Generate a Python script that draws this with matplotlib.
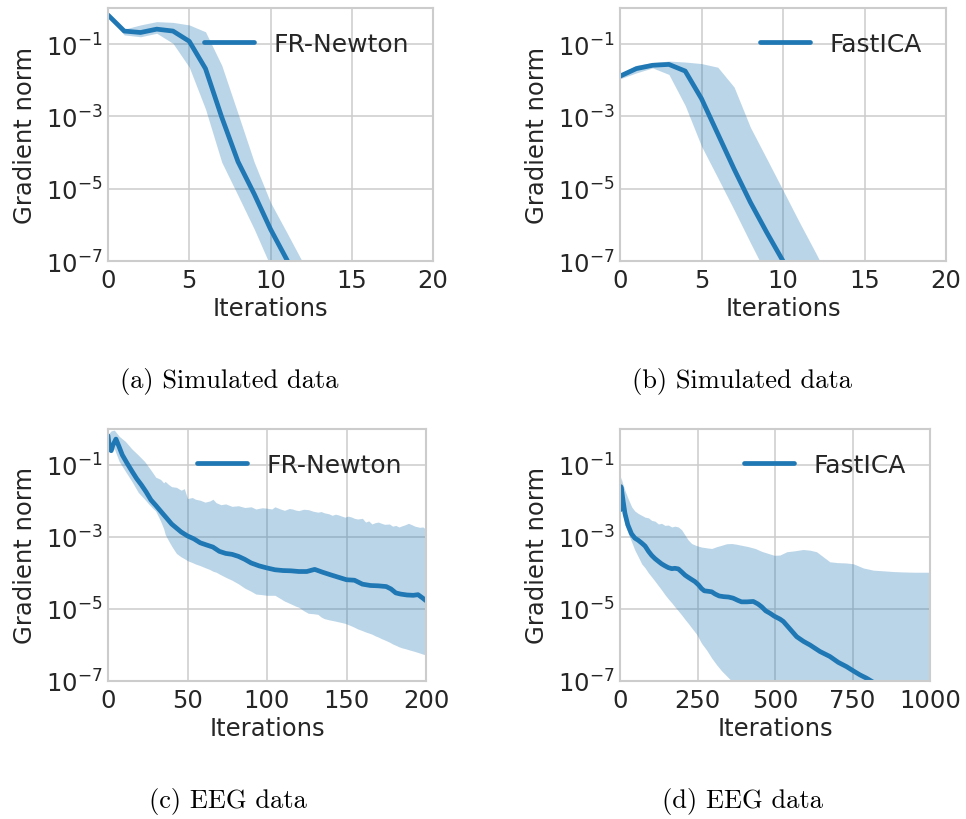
import numpy as np
import matplotlib
matplotlib.use("Agg")
import matplotlib.pyplot as plt

# ---------------- data ----------------
# (a) FR-Newton, simulated data
sim_iters = [0, 1, 2, 3, 4, 5, 6, 7, 8, 9, 10, 11, 12, 13]
fr_sim_mean = [6.4e-1, 2.3e-1, 2.1e-1, 2.6e-1, 2.3e-1, 1.2e-1, 2.1e-2, 9.5e-4, 5.6e-5, 7.1e-6, 7.6e-7, 1.1e-7, 1.3e-8, 1.5e-9]
fr_sim_upper = [6.4e-1, 2.6e-1, 3.4e-1, 4.2e-1, 4.0e-1, 3.4e-1, 2.2e-1, 2.6e-2, 1.2e-3, 5.4e-5, 4.2e-6, 6.2e-7, 8.9e-8, 1.0e-8]
fr_sim_lower = [6.4e-1, 1.8e-1, 1.6e-1, 2.0e-1, 1.05e-1, 2.3e-2, 1.6e-3, 5.4e-5, 6.5e-6, 7.6e-7, 7.2e-8, 1.0e-8, 1.0e-9, 1.0e-10]

# (b) FastICA, simulated data
ica_sim_mean = [1.3e-2, 2.1e-2, 2.6e-2, 2.75e-2, 1.8e-2, 3.1e-3, 3.3e-4, 3.5e-5, 4.2e-6, 6.2e-7, 1.0e-7, 1.3e-8, 1.6e-9, 2.0e-10]
ica_sim_upper = [1.55e-2, 2.6e-2, 3.1e-2, 3.4e-2, 3.2e-2, 2.9e-2, 2.3e-2, 6.5e-3, 5.0e-4, 6.8e-5, 9.1e-6, 1.2e-6, 1.7e-7, 2.2e-8]
ica_sim_lower = [1.1e-2, 1.6e-2, 2.2e-2, 1.45e-2, 2.0e-3, 1.5e-4, 2.0e-5, 2.6e-6, 3.2e-7, 4.1e-8, 5.0e-9, 6.0e-10, 8.0e-11, 1.0e-11]

# (c) FR-Newton, EEG data
fr_eeg_iters = [0, 1, 2, 3, 5, 7, 9, 12, 15, 18, 21, 24, 27, 30, 34, 37, 40, 43, 46, 50,
                54, 58, 62, 66, 70, 74, 78, 82, 86, 90, 95, 100, 105, 110, 115, 120, 125, 130,
                135, 140, 145, 150, 155, 160, 165, 170, 175, 178, 181, 184, 188, 192, 195, 198, 200]
fr_eeg_mean = [6.5e-1, 2.8e-1, 2.5e-1, 3.5e-1, 5.25e-1, 3.2e-1, 1.9e-1, 1.12e-1, 6.8e-2, 4.2e-2,
               2.8e-2, 1.78e-2, 1.07e-2, 7.6e-3, 4.7e-3, 3.3e-3, 2.3e-3, 1.78e-3, 1.38e-3, 1.07e-3,
               8.9e-4, 6.9e-4, 6.0e-4, 5.25e-4, 4.0e-4, 3.5e-4, 3.3e-4, 2.9e-4, 2.4e-4, 1.9e-4,
               1.58e-4, 1.38e-4, 1.23e-4, 1.17e-4, 1.15e-4, 1.1e-4, 1.1e-4, 1.26e-4, 1.05e-4, 8.9e-5,
               7.6e-5, 6.5e-5, 6.3e-5, 4.9e-5, 4.5e-5, 4.4e-5, 4.2e-5, 3.6e-5, 2.8e-5, 2.6e-5,
               2.45e-5, 2.4e-5, 2.5e-5, 2.0e-5, 1.7e-5]
fr_eeg_band_iters = [0, 2, 4, 7, 11, 15, 19, 23, 26, 28, 30, 33, 35, 36, 38, 40, 43, 46, 48, 50,
                     53, 55, 58, 61, 64, 66, 68, 71, 74, 78, 82, 86, 90, 93, 97, 100, 103, 105,
                     108, 111, 114, 116, 118, 120, 123, 126, 129, 132, 134, 136, 139, 141, 143,
                     145, 147, 149, 151, 153, 155, 157, 160, 162, 164, 166, 168, 170, 172, 174,
                     177, 179, 181, 183, 185, 187, 189, 191, 193, 196, 198, 200]
fr_eeg_upper = [7.1e-1, 8.9e-1, 9.3e-1, 6.3e-1, 4.5e-1, 2.8e-1, 1.9e-1, 1.26e-1, 8.3e-2, 6.2e-2,
                4.6e-2, 4.0e-2, 3.2e-2, 3.5e-2, 2.9e-2, 2.5e-2, 2.4e-2, 2.0e-2, 2.2e-2, 1.17e-2,
                1.25e-2, 1.12e-2, 1.05e-2, 9.3e-3, 1.0e-2, 1.12e-2, 9.0e-3, 7.9e-3, 8.3e-3, 7.1e-3,
                7.4e-3, 6.6e-3, 6.9e-3, 6.0e-3, 6.5e-3, 6.3e-3, 6.0e-3, 6.9e-3, 6.1e-3, 5.5e-3,
                6.2e-3, 6.0e-3, 5.6e-3, 5.4e-3, 5.9e-3, 5.75e-3, 5.2e-3, 4.9e-3, 5.1e-3, 4.7e-3,
                4.4e-3, 4.0e-3, 4.3e-3, 4.1e-3, 3.8e-3, 3.55e-3, 3.8e-3, 3.6e-3, 3.3e-3, 3.16e-3,
                3.3e-3, 2.6e-3, 2.8e-3, 2.3e-3, 2.5e-3, 2.6e-3, 2.4e-3, 2.25e-3, 2.3e-3, 2.0e-3,
                2.1e-3, 1.9e-3, 2.05e-3, 2.2e-3, 2.4e-3, 2.2e-3, 2.0e-3, 1.86e-3, 1.9e-3, 1.66e-3]
fr_eeg_lower = [4.0e-1, 2.2e-1, 2.8e-1, 1.26e-1, 6.6e-2, 3.5e-2, 1.74e-2, 1.12e-2, 7.9e-3, 6.4e-3,
                5.25e-3, 2.8e-3, 1.7e-3, 1.17e-3, 8.0e-4, 5.6e-4, 3.5e-4, 2.8e-4, 2.5e-4, 2.2e-4,
                1.95e-4, 1.78e-4, 1.6e-4, 1.41e-4, 1.25e-4, 1.12e-4, 1.05e-4, 8.9e-5, 7.6e-5, 6.3e-5,
                5.0e-5, 3.8e-5, 3.1e-5, 2.6e-5, 2.5e-5, 2.4e-5, 2.4e-5, 2.4e-5, 2.0e-5, 1.66e-5,
                1.45e-5, 1.32e-5, 1.2e-5, 1.12e-5, 9.0e-6, 7.6e-6, 7.4e-6, 7.1e-6, 6.0e-6, 5.4e-6,
                5.0e-6, 4.8e-6, 4.6e-6, 4.4e-6, 4.2e-6, 4.0e-6, 3.7e-6, 3.4e-6, 3.1e-6, 2.8e-6,
                2.5e-6, 2.3e-6, 2.15e-6, 2.0e-6, 1.8e-6, 1.66e-6, 1.5e-6, 1.38e-6, 1.2e-6, 1.07e-6,
                9.8e-7, 8.9e-7, 8.3e-7, 7.9e-7, 7.4e-7, 7.0e-7, 6.6e-7, 6.0e-7, 5.6e-7, 5.25e-7]

# (d) FastICA, EEG data
ica_eeg_iters = [0, 3, 6, 10, 16, 25, 37, 48, 59, 70, 81, 92, 102, 113, 124, 134, 145, 156, 167,
                 177, 188, 199, 210, 220, 231, 242, 253, 263, 272, 285, 296, 307, 320, 335, 350,
                 365, 380, 392, 410, 430, 445, 457, 470, 484, 498, 516, 527, 548, 570, 592, 613,
                 645, 677, 704, 731, 753, 774, 795, 820, 850, 900, 950, 1000]
ica_eeg_mean = [5.6e-3, 2.5e-2, 1.78e-2, 1.0e-2, 4.5e-3, 2.2e-3, 1.23e-3, 9.3e-4, 8.1e-4, 6.8e-4,
                5.6e-4, 4.0e-4, 3.1e-4, 2.5e-4, 2.1e-4, 1.8e-4, 1.58e-4, 1.41e-4, 1.32e-4, 1.35e-4,
                1.3e-4, 1.07e-4, 8.7e-5, 7.6e-5, 6.6e-5, 5.75e-5, 4.7e-5, 3.7e-5, 3.2e-5, 3.1e-5,
                3.0e-5, 2.6e-5, 2.3e-5, 2.2e-5, 2.15e-5, 2.0e-5, 1.74e-5, 1.58e-5, 1.58e-5, 1.62e-5,
                1.38e-5, 1.15e-5, 8.9e-6, 7.6e-6, 6.3e-6, 5.25e-6, 4.5e-6, 2.8e-6, 1.7e-6, 1.26e-6,
                1.0e-6, 6.6e-7, 4.8e-7, 3.3e-7, 2.5e-7, 1.9e-7, 1.48e-7, 1.2e-7, 8.9e-8, 6.3e-8,
                3.5e-8, 2.0e-8, 1.12e-8]
ica_eeg_band_iters = [0, 3, 8, 16, 27, 38, 48, 59, 70, 81, 92, 102, 113, 124, 134, 145, 156, 167,
                      177, 188, 199, 210, 220, 231, 247, 263, 280, 296, 312, 328, 344, 360, 376,
                      392, 414, 436, 457, 478, 498, 516, 538, 560, 591, 613, 634, 656, 677, 700,
                      730, 753, 785, 817, 850, 880, 914, 950, 1000]
ica_eeg_upper = [2.8e-2, 4.6e-2, 3.2e-2, 1.95e-2, 1.12e-2, 6.8e-3, 5.25e-3, 4.5e-3, 4.0e-3, 3.55e-3,
                 3.4e-3, 2.9e-3, 2.75e-3, 2.3e-3, 2.4e-3, 2.1e-3, 2.15e-3, 1.9e-3, 2.0e-3, 1.9e-3,
                 1.58e-3, 1.12e-3, 8.3e-4, 6.6e-4, 5.75e-4, 5.25e-4, 5.0e-4, 4.8e-4, 5.4e-4, 5.9e-4,
                 6.5e-4, 6.6e-4, 6.3e-4, 5.9e-4, 5.4e-4, 4.8e-4, 4.0e-4, 3.5e-4, 3.1e-4, 3.16e-4,
                 3.9e-4, 4.1e-4, 4.5e-4, 4.3e-4, 3.9e-4, 2.8e-4, 2.05e-4, 1.95e-4, 1.9e-4, 1.8e-4,
                 1.38e-4, 1.2e-4, 1.15e-4, 1.1e-4, 1.07e-4, 1.05e-4, 1.05e-4]
ica_eeg_lower = [7.9e-3, 8.9e-3, 4.5e-3, 2.2e-3, 1.23e-3, 7.1e-4, 4.3e-4, 2.8e-4, 1.8e-4, 1.38e-4,
                 1.0e-4, 7.8e-5, 5.9e-5, 4.4e-5, 3.4e-5, 2.5e-5, 1.9e-5, 1.48e-5, 1.15e-5, 8.9e-6,
                 6.8e-6, 5.1e-6, 4.0e-6, 3.0e-6, 2.0e-6, 1.12e-6, 7.1e-7, 4.3e-7, 2.8e-7, 1.9e-7,
                 1.38e-7, 1.0e-7, 7.2e-8, 5.0e-8, 3.2e-8, 2.0e-8, 1.26e-8, 7.9e-9, 5.0e-9, 3.5e-9,
                 2.2e-9, 1.5e-9, 8.0e-10, 5.0e-10, 3.5e-10, 2.2e-10, 1.5e-10, 1.0e-10, 6.0e-11,
                 4.0e-11, 2.5e-11, 1.5e-11, 1.0e-11, 6.0e-12, 4.0e-12, 2.5e-12, 1.5e-12]

y_ticks = [1e-7, 1e-5, 1e-3, 1e-1]
captions = ["(a) Simulated data", "(b) Simulated data", "(c) EEG data", "(d) EEG data"]

# ---------------- style ----------------
plt.rcParams.update({
    "font.family": "DejaVu Sans",
    "font.size": 17.5,
    "legend.fontsize": 18,
    "axes.edgecolor": "#cccccc",
    "axes.linewidth": 1.5,
    "grid.color": "#cccccc",
    "grid.linewidth": 1.1,
    "text.color": "#262626",
    "axes.labelcolor": "#262626",
    "xtick.color": "#262626",
    "ytick.color": "#262626",
    "xtick.major.size": 0,
    "ytick.major.size": 0,
    "xtick.minor.size": 0,
    "ytick.minor.size": 0,
    "xtick.major.pad": 5,
    "ytick.major.pad": 4,
    "axes.labelpad": 3,
})

BLUE = "#1f77b4"
W, H = 966, 820
fig = plt.figure(figsize=(W / 100, H / 100), dpi=100)


def make_axes(left, right, top, bottom):
    return fig.add_axes([left / W, 1 - bottom / H, (right - left) / W, (bottom - top) / H])


panels = [
    (make_axes(108, 433, 9, 262), sim_iters, fr_sim_mean, sim_iters, fr_sim_lower, fr_sim_upper,
     "FR-Newton", (0, 20), [0, 5, 10, 15, 20]),
    (make_axes(620, 946, 9, 262), sim_iters, ica_sim_mean, sim_iters, ica_sim_lower, ica_sim_upper,
     "FastICA", (0, 20), [0, 5, 10, 15, 20]),
    (make_axes(108, 426, 430, 682), fr_eeg_iters, fr_eeg_mean, fr_eeg_band_iters, fr_eeg_lower,
     fr_eeg_upper, "FR-Newton", (0, 200), [0, 50, 100, 150, 200]),
    (make_axes(620, 930, 430, 682), ica_eeg_iters, ica_eeg_mean, ica_eeg_band_iters, ica_eeg_lower,
     ica_eeg_upper, "FastICA", (0, 1000), [0, 250, 500, 750, 1000]),
]

for ax, xi, mean, bx, lo, up, label, xlim, xt in panels:
    ax.set_axisbelow(True)
    ax.grid(True, which="major")
    ax.fill_between(bx, lo, up, color=BLUE, alpha=0.3, linewidth=0)
    ax.plot(xi, mean, color=BLUE, lw=3.4, label=label, solid_capstyle="round")
    ax.set_yscale("log")
    ax.set_ylim(1e-7, 1.0)
    ax.set_xlim(*xlim)
    ax.set_xticks(xt)
    ax.set_yticks(y_ticks)
    ax.yaxis.set_minor_locator(matplotlib.ticker.NullLocator())
    ax.set_xlabel("Iterations")
    ax.set_ylabel("Gradient norm", labelpad=6.5)
    ax.legend(loc="upper right", frameon=False, handlelength=2.0, handletextpad=0.8,
              borderaxespad=0.45, borderpad=0.5)
    for s in ax.spines.values():
        s.set_color("#cccccc")

cap_pos = [(229, 382), (742, 382), (228, 802), (742, 802)]
for (cx, cy), txt in zip(cap_pos, captions):
    fig.text(cx / W, 1 - cy / H, txt, ha="center", va="center", fontfamily="cmr10",
             fontsize=19, color="black")

fig.savefig("out.png", dpi=100)
